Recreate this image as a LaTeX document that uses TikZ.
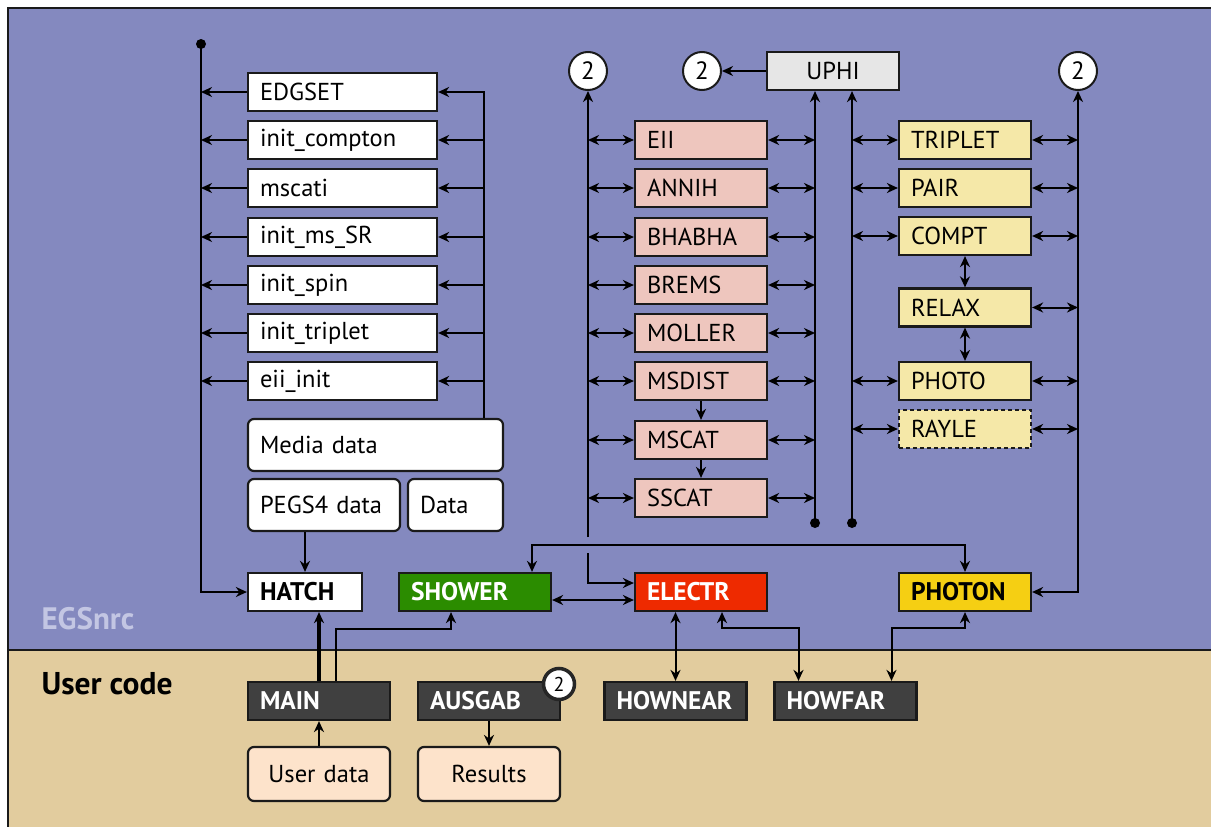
\documentclass[tikz,border=0pt]{standalone}
\usepackage{fontspec}
\setmainfont{PT Sans}
\usetikzlibrary{arrows.meta}
\definecolor{bgblue}{HTML}{8489BF}
\definecolor{bgtan}{HTML}{E2CC9E}
\definecolor{pinkbox}{HTML}{EEC6BE}
\definecolor{yelbox}{HTML}{F5E8A8}
\definecolor{uphigray}{HTML}{E6E6E6}
\definecolor{darkbox}{HTML}{404040}
\definecolor{peach}{HTML}{FDE3CB}
\definecolor{showergreen}{HTML}{2B8C00}
\definecolor{electrred}{HTML}{EE2A00}
\definecolor{photonyel}{HTML}{F5CF13}
\definecolor{egslabel}{HTML}{C3C6E3}
\definecolor{edge}{HTML}{1A1A1A}
\tikzset{
  bx/.style={draw=edge, line width=2.2pt, minimum height=38pt, inner xsep=12pt, inner ysep=0pt,
    align=left, font=\fontsize{24.5}{26}\selectfont, text width=#1},
  bxc/.style={bx=#1, align=center},
  bold/.style={font=\fontsize{25.5}{27}\selectfont\bfseries},
  databox/.style={bx=#1, minimum height=52pt, rounded corners=6pt, fill=white},
  udata/.style={bxc=#1, minimum height=54pt, rounded corners=6pt, fill=peach},
  leftbox/.style={bx=165pt, fill=white},
  pbox/.style={bx=108pt, fill=pinkbox},
  ybox/.style={bx=108pt, fill=yelbox},
  dbox/.style={bx=118pt, fill=darkbox, text=white, bold},
  numc/.style={circle, draw=edge, line width=2pt, fill=white, minimum size=38pt, inner sep=0pt,
    font=\fontsize{25}{26}\selectfont},
  conn/.style={line width=2pt, draw=black},
  dot/.style={circle, fill=black, inner sep=0pt, minimum size=10pt},
  >={Stealth[length=11pt,width=10pt,inset=3.5pt]}
}
\begin{document}
\begin{tikzpicture}[x=1pt,y=-1pt]
\useasboundingbox (0,0) rectangle (1211,827);
\clip (0,0) rectangle (1211,827);
% backgrounds
\fill[bgblue] (8,8) rectangle (1220,650);
\fill[bgtan] (8,650) rectangle (1220,835);
\draw[line width=2pt, edge] (1220,8) -- (8,8) -- (8,835);
\draw[line width=1.6pt, edge] (8,650) -- (1220,650);
\node[anchor=west, text=egslabel, font=\fontsize{31}{33}\selectfont\bfseries] (egs) at (38,619) {EGSnrc};
\node[anchor=west, text=black, font=\fontsize{31.5}{33}\selectfont\bfseries] (uc) at (38,684) {User code};

% left column
\node[leftbox] (edgset) at (342.5,92) {EDGSET};
\node[leftbox] (icompton) at (342.5,140) {init\_compton};
\node[leftbox] (mscati) at (342.5,188) {mscati};
\node[leftbox] (imssr) at (342.5,237) {init\_ms\_SR};
\node[leftbox] (ispin) at (342.5,285) {init\_spin};
\node[leftbox] (itriplet) at (342.5,333) {init\_triplet};
\node[leftbox] (eiiinit) at (342.5,381) {eii\_init};
\node[databox=231pt] (media) at (375.5,445) {Media data};
\node[databox=128pt] (pegs) at (324,505) {PEGS4 data};
\node[databox=71pt] (data) at (455.5,505) {Data};

% main row
\node[bx=90pt, fill=white, bold] (hatch) at (305,592) {HATCH};
\node[bx=128pt, fill=showergreen, text=white, bold] (shower) at (475,592) {SHOWER};
\node[bx=108pt, fill=electrred, text=white, bold] (electr) at (701,592) {ELECTR};
\node[bx=108pt, fill=photonyel, text=black, bold] (photon) at (965,592) {PHOTON};

% pink column
\node[pbox] (eii) at (701,140) {EII};
\node[pbox] (annih) at (701,188) {ANNIH};
\node[pbox] (bhabha) at (701,237) {BHABHA};
\node[pbox] (brems) at (701,285) {BREMS};
\node[pbox] (moller) at (701,333) {MOLLER};
\node[pbox] (msdist) at (701,381) {MSDIST};
\node[pbox] (mscat) at (701,440) {MSCAT};
\node[pbox] (sscat) at (701,498) {SSCAT};
\node[bxc=108pt, fill=uphigray] (uphi) at (833,71) {UPHI};

% yellow column
\node[ybox] (triplet) at (965,140) {TRIPLET};
\node[ybox] (pair) at (965,188) {PAIR};
\node[ybox] (compt) at (965,236) {COMPT};
\node[ybox] (relax) at (965,307.5) {RELAX};
\node[ybox] (photo) at (965,381) {PHOTO};
\node[ybox, dashed, dash pattern=on 4pt off 3pt] (rayle) at (965,429) {RAYLE};

% circles
\node[numc] (c1) at (588,71) {2};
\node[numc] (c2) at (702,71) {2};
\node[numc] (c3) at (1078,71) {2};

% user code
\node[dbox] (main) at (319,701) {MAIN};
\node[dbox] (ausgab) at (489,701) {AUSGAB};
\node[dbox] (hownear) at (675.5,701) {HOWNEAR};
\node[dbox] (howfar) at (845.5,701) {HOWFAR};
\node[numc, minimum size=31pt, line width=3.5pt, draw=black!85, font=\fontsize{20}{22}\selectfont] (c4) at (559,684) {2};
\node[udata=118pt] (userdata) at (319,774) {User data};
\node[udata=118pt] (results) at (489,774) {Results};

% coordinates
\node[dot] (topdot) at (201,44) {};
\coordinate (rx) at (484,0);
\node[dot] (d2) at (815,523) {};
\node[dot] (d3) at (852,523) {};
\coordinate (m1low) at (588,537);
\coordinate (m1b) at (588,553);
\coordinate (sp) at (700,545);
\coordinate (v1) at (400,629);
\coordinate (v2) at (760,628);
\coordinate (v3) at (930,628);

% left column connectors
\draw[conn,->] (topdot.center) |- (hatch.west);
\foreach \b in {edgset,icompton,mscati,imssr,ispin,itriplet,eiiinit}
  \draw[conn,->] (\b.west) -- (\b.west -| topdot);
\draw[conn,->] (media.north -| rx) |- (edgset.east);
\foreach \b in {icompton,mscati,imssr,ispin,itriplet,eiiinit}
  \draw[conn,->] (\b.east -| rx) -- (\b.east);
\draw[conn,->] (hatch.north |- pegs.south) -- (hatch.north);

% pink column connectors
\draw[conn,->] (m1low) -- (c1.south);
\foreach \b in {eii,annih,bhabha,brems,moller,msdist,mscat,sscat}{
  \draw[conn,<->] (\b.west -| c1) -- (\b.west);
  \draw[conn,<->] (\b.east) -- (\b.east -| d2);
}
\draw[conn,->] (d2.center) -- (d2 |- uphi.south);
\draw[conn,->] (d3.center) -- (d3 |- uphi.south);
\draw[conn,->] (uphi.west) -- (c2.east);
\draw[conn,->] (msdist.south) -- (mscat.north);
\draw[conn,->] (mscat.south) -- (sscat.north);

% yellow column connectors
\foreach \b in {triplet,pair,compt,photo,rayle}
  \draw[conn,<->] (\b.west -| d3) -- (\b.west);
\foreach \b in {triplet,pair,compt,relax,photo,rayle}
  \draw[conn,<->] (\b.east) -- (\b.east -| c3);
\draw[conn,<->] (compt.south) -- (relax.north);
\draw[conn,<->] (relax.south) -- (photo.north);
\draw[conn,<->] (c3.south) |- (photon.east);

% main row connectors
\draw[conn,->] (m1b) |- ([yshift=9pt]electr.west);
\draw[conn,<->] ([yshift=-8pt]shower.east) -- ([yshift=-8pt]electr.west);
\draw[conn,<->] ([xshift=57pt]shower.north) |- (sp) -| (photon.north);
\draw[conn,->,line width=3.5pt] (main.north) -- (main.north |- hatch.south);
\draw[conn,->] ([xshift=17pt]main.north) |- (v1) -| ([xshift=-24pt]shower.south);
\draw[conn,<->] (hownear.north) -- (hownear.north |- electr.south);
\draw[conn,<->] ([xshift=21pt]electr.south) |- (v2) -| ([xshift=-47pt]howfar.north);
\draw[conn,<->] (photon.south) |- (v3) -| ([xshift=46pt]howfar.north);
\draw[conn,->] (userdata.north) -- (main.south);
\draw[conn,->] (ausgab.south) -- (results.north);
\end{tikzpicture}
\end{document}
